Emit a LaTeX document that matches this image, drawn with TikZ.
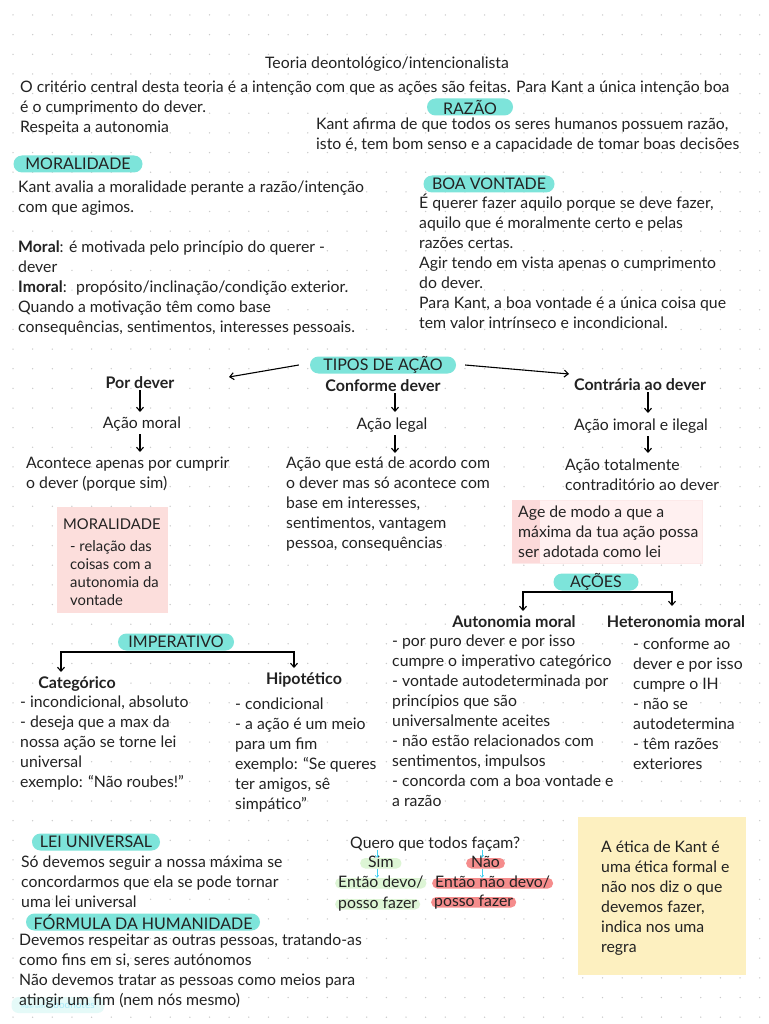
\documentclass[tikz,border=0pt]{standalone}
\usepackage{fontspec}
\setmainfont{Lato}
\usepackage{tikz}
\usetikzlibrary{positioning,arrows.meta}

\definecolor{pillcyan}{HTML}{7DE4DA}
\definecolor{inkgray}{HTML}{222222}
\definecolor{dotgray}{HTML}{C9C9C9}
\definecolor{pinkbox}{HTML}{FCDEDC}
\definecolor{agepink}{HTML}{FFF0F0}
\definecolor{agestrip}{HTML}{FCDADA}
\definecolor{yellowbox}{HTML}{FDF0C0}
\definecolor{simgreen}{HTML}{DDF5D5}
\definecolor{naored}{HTML}{F58C8C}
\definecolor{tinyarrow}{HTML}{3FD0F0}

\begin{document}
\begin{tikzpicture}[x=1pt, y=-1pt,
    textnode/.style={anchor=base west, align=left, inner sep=0pt, text=inkgray, font=\fontsize{15.8}{20}\selectfont},
    plainnode/.style={anchor=base, inner sep=0pt, text=inkgray, font=\fontsize{15.8}{20}\selectfont},
    headnode/.style={anchor=base, inner sep=0pt, text=inkgray, font=\fontsize{16}{20}\selectfont\bfseries},
    pillnode/.style={fill=pillcyan, rounded corners=8.5pt, minimum height=17pt, inner ysep=0pt, text=inkgray, font=\fontsize{16}{18}\selectfont},
    greenmark/.style={fill=simgreen, rounded corners=5pt, anchor=base west, text height=9pt, text depth=1.5pt, inner xsep=3pt, inner ysep=0pt, text=inkgray, font=\fontsize{15.8}{18}\selectfont},
    redmark/.style={greenmark, fill=naored},
    darrow/.style={draw=black, line width=1.1pt, -{Straight Barb[length=4pt,width=7pt]}},
    cyanarrow/.style={draw=tinyarrow, line width=0.6pt, -{Straight Barb[length=2pt,width=3.5pt]}}]

    \useasboundingbox (0,0) rectangle (768,1024);
    \fill[white] (0,0) rectangle (768,1024);

    % dotted paper
    \foreach \i in {0,...,39}
        \foreach \j in {0,...,52}
            \fill[dotgray] (13+\i*19.65,15+\j*19.65) circle (0.75);

    % marca de agua
    \node[fill=pillcyan!20, rounded corners=7pt, minimum width=93pt, minimum height=16pt, inner sep=0pt, text=tinyarrow!45, font=\fontsize{5}{6}\selectfont] (goodnotes) at (58,1005) {Made with \fontsize{10}{12}\selectfont Goodnotes};

    % top part (base = last line)
    \node[plainnode] (title) at (387,69) {Teoria deontológico/intencionalista};
    \node[textnode] (intro) at (20,133) {O critério central desta teoria é a intenção com que as ações são feitas. Para Kant a única intenção boa\\é o cumprimento do dever.\\Respeita a autonomia};

    \node[pillnode, minimum width=86pt] (razaopill) at (470,107) {RAZÃO};
    \node[textnode] (razao) at (316,150) {Kant afirma de que todos os seres humanos possuem razão,\\isto é, tem bom senso e a capacidade de tomar boas decisões};

    \node[pillnode, minimum width=129pt] (moralpill) at (78,164) {MORALIDADE};
    \node[textnode] (moral) at (18,332) {Kant avalia a moralidade perante a razão/intenção\\com que agimos.\\[20pt]\textbf{Moral}: é motivada pelo princípio do querer -\\dever\\\textbf{Imoral}:~ propósito/inclinação/condição exterior.\\Quando a motivação têm como base\\consequências, sentimentos, interesses pessoais.};

    \node[pillnode, minimum width=131pt] (boapill) at (489,184) {BOA VONTADE};
    \node[textnode] (boa) at (419,328) {É querer fazer aquilo porque se deve fazer,\\aquilo que é moralmente certo e pelas\\razões certas.\\Agir tendo em vista apenas o cumprimento\\do dever.\\Para Kant, a boa vontade é a única coisa que\\tem valor intrínseco e incondicional.};

    % tipos de acao
    \node[pillnode, minimum width=146pt] (tipos) at (383,365) {TIPOS DE AÇÃO};
    \coordinate (tiposleft) at (229,377);
    \coordinate (tiposright) at (569,374);
    \draw[darrow] ([xshift=-11pt]tipos.west) -- (tiposleft);
    \draw[darrow] ([xshift=9pt]tipos.east) -- (tiposright);

    \node[headnode] (pordever) at (140,388) {Por dever};
    \node[headnode] (conforme) at (383,391) {Conforme dever};
    \node[headnode] (contraria) at (640,390) {Contrária ao dever};

    \node[plainnode] (acaomoral) at (142,428) {Ação moral};
    \node[plainnode] (acaolegal) at (392,429) {Ação legal};
    \node[plainnode] (acaoimoral) at (641,430) {Ação imoral e ilegal};

    \node[textnode] (acontece) at (26,488) {Acontece apenas por cumprir\\o dever (porque sim)};
    \node[textnode] (deacordo) at (286,548) {Ação que está de acordo com\\o dever mas só acontece com\\base em interesses,\\sentimentos, vantagem\\pessoa, consequências};
    \node[textnode] (totalmente) at (565,490) {Ação totalmente\\contraditório ao dever};

    \draw[darrow] (pordever.south -| 140,0) ++(0,2) -- (140,412);
    \draw[darrow] (acaomoral.south -| 140,0) ++(0,3) -- (140,452);
    \draw[darrow] (conforme.south -| 395,0) ++(0,2) -- (395,412);
    \draw[darrow] (acaolegal.south -| 395,0) ++(0,3) -- (395,453);
    \draw[darrow] (contraria.south -| 648,0) ++(0,2) -- (648,413);
    \draw[darrow] (acaoimoral.south -| 648,0) ++(0,3) -- (648,453);

    % notas rosa
    \node[fill=pinkbox, anchor=north west, minimum width=111pt, minimum height=106pt, inner sep=0pt] (moralbox) at (57,507) {};
    \node[textnode, font=\fontsize{14.8}{18}\selectfont] (moralboxtext) at (63,605) {MORALIDADE\\[4pt]\hspace*{7pt}- relação das\\\hspace*{7pt}coisas com a\\\hspace*{7pt}autonomia da\\\hspace*{7pt}vontade};

    \node[fill=agepink, draw=agestrip!60, line width=0.4pt, anchor=north west, minimum width=190pt, minimum height=63pt, inner sep=0pt] (agebox) at (512,500) {};
    \fill[agestrip] (agebox.north west) rectangle ([xshift=28pt]agebox.south west);
    \node[textnode] (age) at (518,557) {Age de modo a que a\\máxima da tua ação possa\\ser adotada como lei};

    % acoes
    \node[textnode] (autonomialist) at (392,806) {- por puro dever e por isso\\cumpre o imperativo categórico\\- vontade autodeterminada por\\princípios que são\\universalmente aceites\\- não estão relacionados com\\sentimentos, impulsos\\- concorda com a boa vontade e\\a razão};
    \node[textnode] (heteronomialist) at (633,769) {- conforme ao\\dever e por isso\\cumpre o IH\\- não se\\autodetermina\\- têm razões\\exteriores};
    \node[headnode] (autonomia) at (514,627) {Autonomia moral};
    \node[headnode] (heteronomia) at (676,627) {Heteronomia moral};
    \coordinate (acoesleft) at (523,611);
    \coordinate (acoesright) at (672,606);
    \draw[darrow] (596,592) -| (acoesleft);
    \draw[darrow] (596,592) -| (acoesright);
    \node[pillnode, minimum width=85pt] (acoes) at (596,582) {AÇÕES};

    % imperativo
    \node[headnode] (categorico) at (77,688) {Categórico};
    \node[headnode] (hipotetico) at (304,684) {Hipotético};
    \node[textnode] (categoricolist) at (20,787) {- incondicional, absoluto\\- deseja que a max da\\nossa ação se torne lei\\universal\\exemplo: “Não roubes!”};
    \node[textnode] (hipoteticolist) at (235,809) {- condicional\\- a ação é um meio\\para um fim\\exemplo: “Se queres\\ter amigos, sê\\simpático”};
    \coordinate (impleft) at (61,672);
    \coordinate (impright) at (294,668);
    \draw[darrow] (176,652) -| (impleft);
    \draw[darrow] (176,652) -| (impright);
    \node[pillnode, minimum width=116pt] (imperativo) at (176,642) {IMPERATIVO};

    % lei universal e formula
    \node[pillnode, minimum width=128pt] (leipill) at (96,842) {LEI UNIVERSAL};
    \node[textnode] (lei) at (21,907) {Só devemos seguir a nossa máxima se\\concordarmos que ela se pode tornar\\uma lei universal};
    \node[pillnode, minimum width=234pt] (formulapill) at (143,922) {FÓRMULA DA HUMANIDADE};
    \node[textnode] (formula) at (19,1005) {Devemos respeitar as outras pessoas, tratando-as\\como fins em si, seres autónomos\\Não devemos tratar as pessoas como meios para\\atingir um fim (nem nós mesmo)};

    % quero que todos facam
    \node[textnode] (quero) at (350,848) {Quero que todos façam?};
    \node[greenmark] (sim) at (360,867) {\hspace*{5pt}Sim\hspace*{5pt}};
    \node[redmark] (nao) at (466,867) {\hspace*{2pt}Não\hspace*{2pt}};
    \node[greenmark] (simdevo) at (335,887) {Então devo/};
    \node[greenmark] (simfazer) at (335,908) {posso fazer};
    \node[redmark] (naodevo) at (432,887) {Então não devo/};
    \node[redmark] (naofazer) at (431,906) {posso fazer};
    \draw[cyanarrow] (377,850) -- (sim.north -| 377,0);
    \draw[cyanarrow] (377,869) -- (simdevo.north -| 377,0);
    \draw[cyanarrow] (482,850) -- (nao.north -| 482,0);
    \draw[cyanarrow] (482,869) -- (naodevo.north -| 482,0);

    % nota amarela
    \node[fill=yellowbox, anchor=north west, minimum width=168pt, minimum height=158pt, inner sep=0pt] (kantbox) at (578,817) {};
    \node[textnode] (kant) at (601,952) {A ética de Kant é\\uma ética formal e\\não nos diz o que\\devemos fazer,\\indica nos uma\\regra};
\end{tikzpicture}
\end{document}
